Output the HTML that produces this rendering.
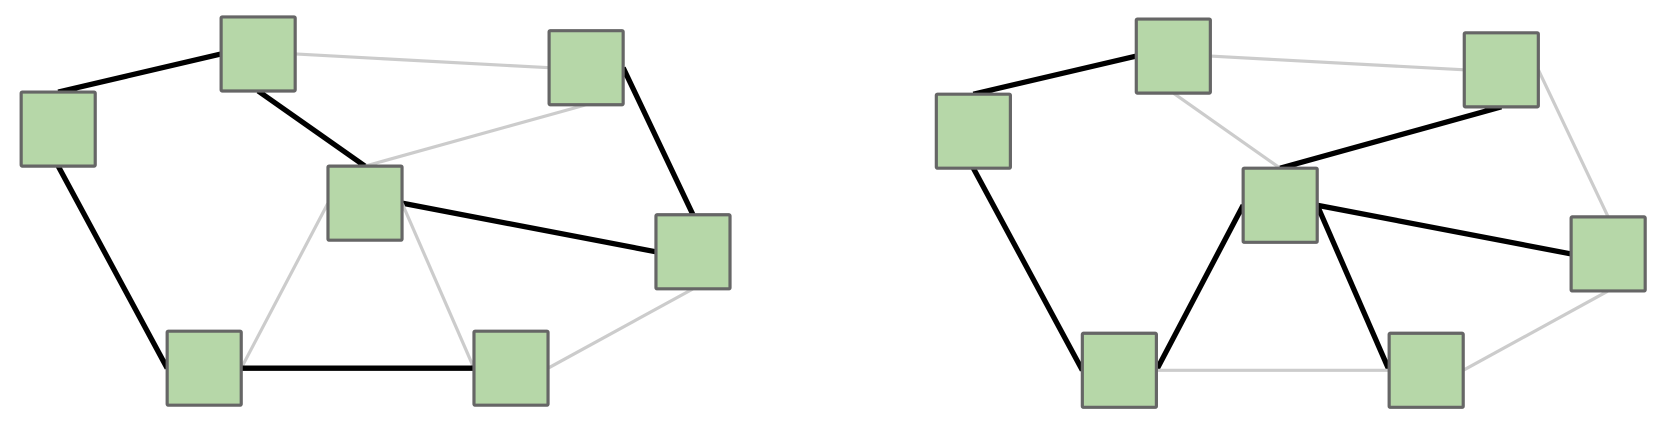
<!DOCTYPE html>
<html><head><meta charset="utf-8"><style>
html,body{margin:0;padding:0;background:#fff;overflow:hidden;}
svg{display:block;}
</style></head><body>
<svg width="1659" height="429" viewBox="0 0 1659 429" xmlns="http://www.w3.org/2000/svg">
<defs>
<g id="n"><rect x="0" y="0" width="70" height="70" rx="1" fill="#b6d7a8" stroke="#666" stroke-width="3"/></g>
</defs>
<g transform="scale(1.058)">
<g>
<line x1="55" y1="87" x2="209" y2="51" stroke="#000" stroke-width="5"/>
<line x1="279" y1="51" x2="519" y2="64" stroke="#ccc" stroke-width="3"/>
<line x1="244" y1="86" x2="345" y2="157" stroke="#000" stroke-width="5"/>
<line x1="554" y1="99" x2="345" y2="157" stroke="#ccc" stroke-width="3"/>
<line x1="589" y1="64" x2="655" y2="203" stroke="#000" stroke-width="5"/>
<line x1="55" y1="157" x2="158" y2="348" stroke="#000" stroke-width="5"/>
<line x1="380" y1="192" x2="620" y2="238" stroke="#000" stroke-width="5"/>
<line x1="310" y1="192" x2="228" y2="348" stroke="#ccc" stroke-width="3"/>
<line x1="380" y1="192" x2="448" y2="348" stroke="#ccc" stroke-width="3"/>
<line x1="228" y1="348" x2="448" y2="348" stroke="#000" stroke-width="5"/>
<line x1="518" y1="348" x2="655" y2="273" stroke="#ccc" stroke-width="3"/>
</g>
<use href="#n" x="20" y="87"/>
<use href="#n" x="209" y="16"/>
<use href="#n" x="519" y="29"/>
<use href="#n" x="310" y="157"/>
<use href="#n" x="620" y="203"/>
<use href="#n" x="158" y="313"/>
<use href="#n" x="448" y="313"/>
<g transform="translate(865,2)">
<line x1="55" y1="87" x2="209" y2="51" stroke="#000" stroke-width="5"/>
<line x1="279" y1="51" x2="519" y2="64" stroke="#ccc" stroke-width="3"/>
<line x1="244" y1="86" x2="345" y2="157" stroke="#ccc" stroke-width="3"/>
<line x1="554" y1="99" x2="345" y2="157" stroke="#000" stroke-width="5"/>
<line x1="589" y1="64" x2="655" y2="203" stroke="#ccc" stroke-width="3"/>
<line x1="55" y1="157" x2="158" y2="348" stroke="#000" stroke-width="5"/>
<line x1="380" y1="192" x2="620" y2="238" stroke="#000" stroke-width="5"/>
<line x1="310" y1="192" x2="228" y2="348" stroke="#000" stroke-width="5"/>
<line x1="380" y1="192" x2="448" y2="348" stroke="#000" stroke-width="5"/>
<line x1="228" y1="348" x2="448" y2="348" stroke="#ccc" stroke-width="3"/>
<line x1="518" y1="348" x2="655" y2="273" stroke="#ccc" stroke-width="3"/>
<use href="#n" x="20" y="87"/>
<use href="#n" x="209" y="16"/>
<use href="#n" x="519" y="29"/>
<use href="#n" x="310" y="157"/>
<use href="#n" x="620" y="203"/>
<use href="#n" x="158" y="313"/>
<use href="#n" x="448" y="313"/>
</g>
</g>
</svg>
</body></html>
